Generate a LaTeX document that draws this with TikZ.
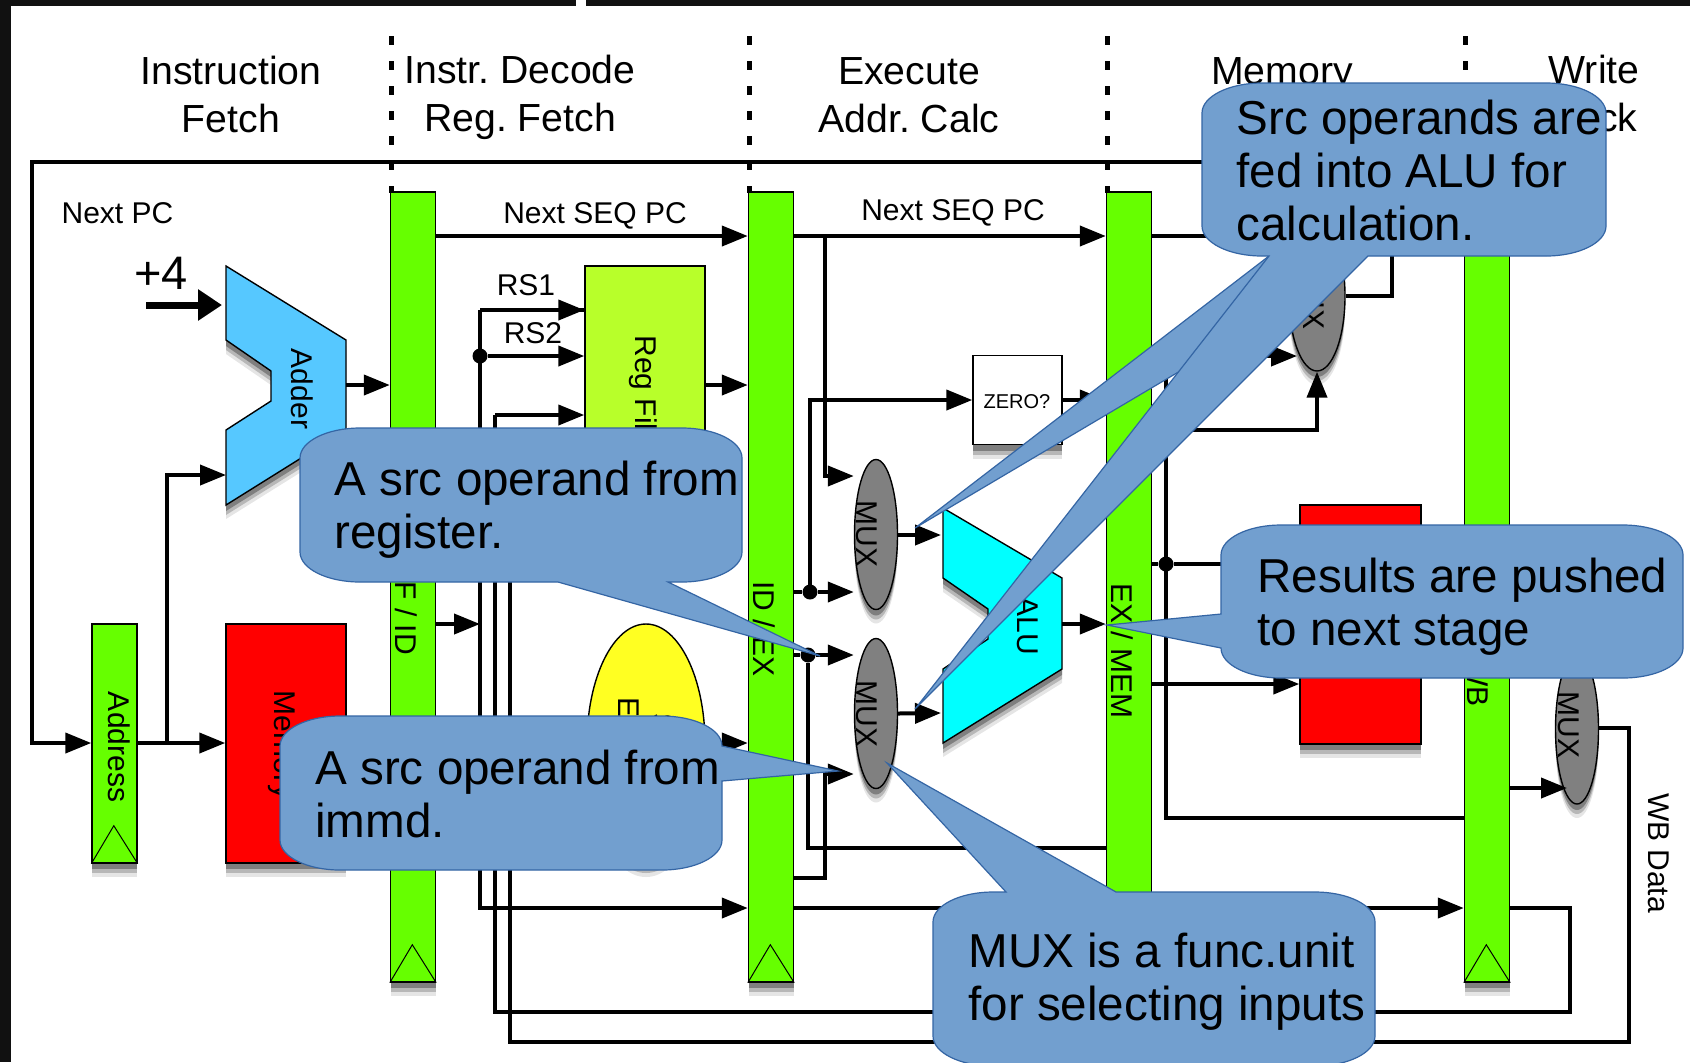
\documentclass[tikz,border=0pt]{standalone}
\usepackage{fontspec}
\setmainfont{Liberation Sans}
\usetikzlibrary{arrows.meta,shapes,shadows}
\definecolor{framecol}{HTML}{111111}
\definecolor{regcol}{HTML}{66FF00}
\definecolor{addercol}{HTML}{56C8FF}
\definecolor{alucol}{HTML}{00FFFF}
\definecolor{filecol}{HTML}{B8FF2A}
\definecolor{immcol}{HTML}{FFFF22}
\definecolor{muxcol}{HTML}{808080}
\definecolor{callcol}{HTML}{729FCF}
\definecolor{calledge}{HTML}{3465A4}

\begin{document}
\frenchspacing
\begin{tikzpicture}[x=0.5pt,y=-0.5pt]
      \tikzstyle{shade}=[drop shadow={shadow xshift=0pt,shadow yshift=-7pt,opacity=.1,fill=black},
        drop shadow={shadow xshift=0pt,shadow yshift=-5pt,opacity=.2,fill=black},
        drop shadow={shadow xshift=0pt,shadow yshift=-3pt,opacity=.3,fill=black}]
      \tikzstyle{block}=[rectangle,draw=black,line width=.7pt,inner sep=0pt,shade]
      \tikzstyle{pipereg}=[block,fill=regcol,minimum width=22.5pt]
      \tikzstyle{mux}=[ellipse,draw=black,line width=.7pt,fill=muxcol,inner sep=0pt,minimum width=21.5pt,minimum height=75pt,shade]
      \tikzstyle{wire}=[line width=2pt,>={Triangle[length=13pt,width=10pt]}]
      \tikzstyle{junct}=[circle,fill=black,inner sep=0pt,minimum size=7.5pt]
      \tikzstyle{divider}=[line width=2.5pt,dash pattern=on 4.5pt off 8pt]
      \tikzstyle{head}=[font=\fontsize{19.6}{24}\selectfont,align=center,inner sep=0pt]
      \tikzstyle{small}=[font=\fontsize{15}{17}\selectfont,inner sep=0pt]
      \tikzstyle{lbl}=[small,rotate=-90,align=center]
      \tikzstyle{callout}=[fill=callcol,draw=calledge,line width=.6pt,x radius=60,y radius=30]
      \tikzstyle{calltext}=[font=\fontsize{23.8}{26.5}\selectfont,align=left,anchor=west,inner sep=0pt]

      \useasboundingbox (0,0) rectangle (1690,1062);
      \fill[white] (0,0) rectangle (1690,1062);
      \fill[framecol] (0,0) rectangle (11,1062);
      \fill[framecol] (0,0) rectangle (576,6);
      \fill[framecol] (586,0) rectangle (1690,6);

      % stage titles
      \node[head](fetch) at (231,94){Instruction\\Fetch};
      \node[head](decode) at (520,97){Instr. Decode\\Reg. Fetch};
      \node[head](exec) at (909,95){Execute\\Addr. Calc};
      \node[head](memstage) at (1282,75){Memory};
      \node[head](wb) at (1594,93){Write\\Back};
      \foreach \x in {391,749,1107,1465}
        \draw[divider] (\x,36) -- (\x,193);

      % pipeline registers
      \node[pipereg,minimum height=395pt](ifid) at (413,587){};
      \node[pipereg,minimum height=395pt,right of=ifid,node distance=179pt](idex){};
      \node[pipereg,minimum height=395pt,right of=idex,node distance=179pt](exmem){};
      \node[pipereg,minimum height=395pt,right of=exmem,node distance=179pt](memwb){};
      \node[pipereg,minimum height=119.5pt](addr) at (114.5,743.5){};
      \foreach \r in {addr,ifid,idex,exmem,memwb}
        \draw[line width=.5pt] (\r.south west) -- ++(22.5,-38) -- (\r.south east);

      % functional units
      \draw[fill=addercol,line width=.7pt,shade] (226,266) -- (346,340) -- (346,430) -- (226,505)
        -- (226,430) -- (271,401) -- (271,371) -- (226,340) -- cycle;
      \draw[fill=alucol,line width=.7pt,shade] (943,508) -- (1062,578) -- (1062,669) -- (943,743)
        -- (943,669) -- (988,639) -- (988,609) -- (943,578) -- cycle;
      \node[block,fill=red,minimum width=60pt,minimum height=119.5pt](imem) at (286,743.5){};
      \node[block,fill=red,minimum width=60.5pt,minimum height=119.5pt](dmem) at (1360.5,624.5){};
      \node[block,fill=filecol,minimum width=60pt,minimum height=119.5pt](regfile) at (645,385.5){};
      \node[block,fill=white,minimum width=44.5pt,minimum height=44.5pt](zero) at (1017.5,400){};
      \node[ellipse,draw=black,line width=.7pt,fill=immcol,inner sep=0pt,minimum width=59pt,minimum height=119.5pt,shade](sext) at (646,743.5){};
      \node[mux](mux1) at (876,534.5){};
      \node[mux](mux2) at (876,713.5){};
      \node[mux,minimum width=28pt](mux3) at (1317,296){};
      \node[mux](mux4) at (1577,729){};

      % ports and wire corners
      \coordinate (adderin1) at (222,305);
      \coordinate (plusstart) at (146,305);
      \coordinate (adderin2) at (226,475);
      \coordinate (adderout) at (346,385);
      \coordinate (aluin1) at (941,535);
      \coordinate (aluin2) at (941,713);
      \coordinate (aluout) at (1062,624);
      \coordinate (pctap) at (167,743);
      \coordinate (busrs) at (480,310);
      \coordinate (buswr) at (495,415);
      \coordinate (busdata) at (510,460);
      \coordinate (seqtap) at (825,236);
      \coordinate (brtap) at (1166,356);
      \node[junct](rsdot) at (480,356){};
      \node[junct](adot) at (810,592){};
      \node[junct](bdot) at (808,655){};
      \node[junct](aludot) at (1166,564){};

      % wires
      \path[wire,->]
      (ifid.east |- 0,236) edge (idex.west |- 0,236)
      (idex.east |- 0,236) edge (exmem.west |- 0,236)
      (adderout) edge (ifid.west |- adderout)
      (regfile.east |- 0,385) edge (idex.west |- 0,385)
      (addr.east |- 0,743) edge (imem.west |- 0,743)
      (busrs) edge (regfile.west |- busrs)
      (rsdot) edge (regfile.west |- rsdot)
      (buswr) edge (regfile.west |- buswr)
      (busdata) edge (regfile.west |- busdata)
      (ifid.east |- 0,624) edge (busrs |- 0,624)
      (sext.east |- 0,743) edge (idex.west |- 0,743)
      (adot) edge (mux1.west |- adot)
      (bdot) edge (mux2.west |- bdot)
      (mux1.east |- aluin1) edge (aluin1)
      (mux2.east) edge (aluin2)
      (zero.east) edge (exmem.west |- zero)
      (aluout) edge (exmem.west |- aluout)
      (exmem.east |- 0,684) edge (dmem.west |- 0,684)
      (brtap) edge (1297,356)
      (memwb.east |- 0,788) edge (1567,788);
      \draw[wire] (exmem.east |- 0,236) -- (1260,236);
      \draw[wire] (exmem.east |- aludot) -- (aludot) -- (1240,564);
      \draw[wire,->] (mux3.east) -- (1392,296) -- (1392,162) -- (32,162) -- (32,743) -- (addr.west |- 0,743);
      \draw[wire,->] (pctap) |- (adderin2);
      \draw[wire,->] (busrs) |- (idex.west |- 0,908);
      \draw[wire] (busrs) |- (regfile.west |- busrs);
      \draw[wire] (buswr) -- (495,1012) -| (1570,908) -- (memwb.east |- 0,908);
      \draw[wire] (busdata) -- (510,1042) -| (1629,728) -- (mux4.east |- 0,728);
      \draw[wire,->] (seqtap) |- (mux1.west |- 0,476);
      \draw[wire,->] (adot.center) -- (810,400) -- (zero.west);
      \draw[wire] (idex.east |- adot) -- (adot);
      \draw[wire] (idex.east |- bdot) -- (bdot);
      \draw[wire] (bdot) -- (808,848) -- (exmem.west |- 0,848);
      \draw[wire,->] (idex.east |- 0,878) -- (825,878) -- (825,774) -- (mux2.west |- 0,774);
      \draw[wire,->] (idex.east |- 0,908) -- (memwb.west |- 0,908);
      \draw[wire,->] (exmem.east |- 0,430) -- (1317,430) -- (mux3.south);
      \draw[wire] (brtap) -- (1166,818) -- (memwb.west |- 0,818);
      \draw[line width=3.5pt,-{Triangle[length=12pt,width=15pt]}] (plusstart) -- (adderin1);

      % labels
      \node[small](nextpc) at (117.5,213){Next PC};
      \node[small](seq1) at (595,216){Next SEQ PC};
      \node[small](seq2) at (953,213){Next SEQ PC};
      \node[small](rs1) at (526,285){RS1};
      \node[small](rs2) at (533,333){RS2};
      \node[font=\fontsize{23.5}{26}\selectfont,inner sep=0pt](plusfour) at (161,273){+4};
      \node[font=\fontsize{10}{12}\selectfont,inner sep=0pt](zerotxt) at (1017,402){ZERO?};
      \node[lbl](addrtxt) at (119,747){Address};
      \node[lbl](addertxt) at (302,389){Adder};
      \node[lbl](imemtxt) at (282,745){Memory};
      \node[lbl,anchor=west](regtxt) at (643,335){Reg File};
      \node[lbl](sexttxt) at (646,744){Sign\\Extend};
      \node[lbl](ifidtxt) at (406,614){IF / ID};
      \node[lbl](idextxt) at (764,629){ID / EX};
      \node[lbl](exmemtxt) at (1122,651){EX / MEM};
      \node[lbl](memwbtxt) at (1478,635){MEM / WB};
      \node[lbl](alutxt) at (1028,626){ALU};
      \node[lbl](mux1txt) at (867,534){MUX};
      \node[lbl](mux2txt) at (867,714){MUX};
      \node[lbl](mux3txt) at (1314,296){MUX};
      \node[lbl](mux4txt) at (1569,725){MUX};
      \node[lbl](wbdata) at (1659,853){WB Data};

      % callouts
      \draw[callout] (1269,256) -- (915,528) -- (1300,300) -- (1300,256) -- cycle;
      \draw[callout] (1202,113) arc[start angle=180,end angle=270] -- (1546,83) arc[start angle=270,end angle=360]
        -- (1606,226) arc[start angle=0,end angle=90] -- (1368,256) -- (915,709) -- (1269,256) -- (1262,256)
        arc[start angle=90,end angle=180] -- cycle;
      \draw[callout] (300,458) arc[start angle=180,end angle=270] -- (682,428) arc[start angle=270,end angle=360]
        -- (742,552) arc[start angle=0,end angle=90] -- (668,582) -- (820,656) -- (558,582) -- (360,582)
        arc[start angle=90,end angle=180] -- cycle;
      \draw[callout] (280,746) arc[start angle=180,end angle=270] -- (662,716) arc[start angle=270,end angle=360]
        -- (838,771) -- (722,781) -- (722,840) arc[start angle=0,end angle=90] -- (340,870)
        arc[start angle=90,end angle=180] -- cycle;
      \draw[callout] (1221,555) arc[start angle=180,end angle=270] -- (1623,525) arc[start angle=270,end angle=360]
        -- (1683,648) arc[start angle=0,end angle=90] -- (1281,678) arc[start angle=90,end angle=180]
        -- (1107,625) -- (1221,614) -- cycle;
      \draw[callout] (933,922) arc[start angle=180,end angle=270] -- (1006,892) -- (887,763) -- (1116,892) -- (1315,892)
        arc[start angle=270,end angle=360] -- (1375,1036) arc[start angle=0,end angle=90] -- (993,1066)
        arc[start angle=90,end angle=180] -- cycle;

      \node[calltext](srctxt) at (1236,170){Src operands are\\fed into ALU for\\calculation.};
      \node[calltext](regop) at (334,510){A src operand from\\register.};
      \node[calltext](immop) at (315,794){A src operand from\\immd.};
      \node[calltext](resulttxt) at (1257,607){Results are pushed\\to next stage};
      \node[calltext](muxnote) at (968,982){MUX is a func.unit\\for selecting inputs};
\end{tikzpicture}
\end{document}
